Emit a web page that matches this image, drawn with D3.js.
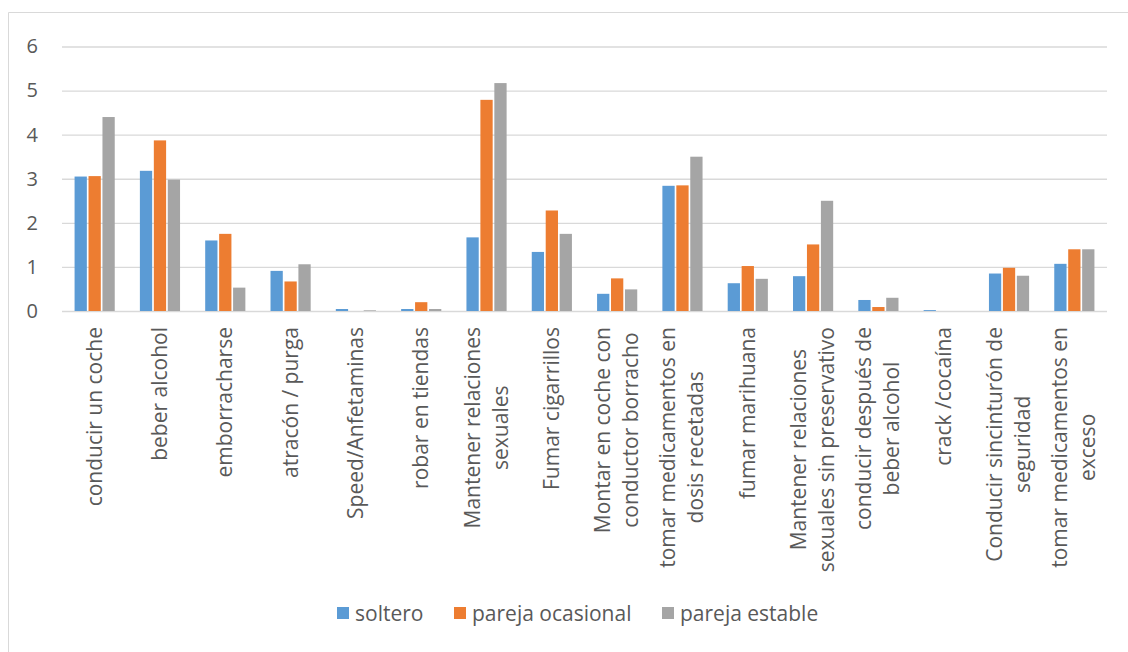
<!DOCTYPE html>
<html>
<head>
<meta charset="utf-8">
<script src="https://cdn.jsdelivr.net/npm/d3@7"></script>
<style>
  html, body { margin: 0; padding: 0; background: #fff; }
  svg { display: block; font-family: "Open Sans", sans-serif; }
</style>
</head>
<body>
<svg id="chart" width="1128" height="652"></svg>
<script>
// Categories (each entry is a list of label lines)
const categories = [
  ["conducir un coche"],
  ["beber alcohol"],
  ["emborracharse"],
  ["atracón / purga"],
  ["Speed/Anfetaminas"],
  ["robar en tiendas"],
  ["Mantener relaciones", "sexuales"],
  ["Fumar cigarrillos"],
  ["Montar en coche con", "conductor borracho"],
  ["tomar medicamentos en", "dosis recetadas"],
  ["fumar marihuana"],
  ["Mantener relaciones", "sexuales sin preservativo"],
  ["conducir después de", "beber alcohol"],
  ["crack /cocaína"],
  ["Conducir sincinturón de", "seguridad"],
  ["tomar medicamentos en", "exceso"]
];

const seriesNames = ["soltero", "pareja ocasional", "pareja estable"];
const seriesColors = ["#5b9bd5", "#ed7d31", "#a5a5a5"];

const soltero  = [3.05, 3.18, 1.60, 0.91, 0.045, 0.045, 1.67, 1.34, 0.39, 2.84, 0.63, 0.79, 0.25, 0.02, 0.85, 1.07];
const ocasional = [3.06, 3.87, 1.75, 0.67, 0, 0.20, 4.79, 2.28, 0.74, 2.85, 1.02, 1.51, 0.09, 0, 0.98, 1.40];
const estable  = [4.40, 2.98, 0.53, 1.06, 0.015, 0.045, 5.17, 1.75, 0.49, 3.50, 0.73, 2.50, 0.30, 0, 0.80, 1.40];

const yTicks = [0, 1, 2, 3, 4, 5, 6];

const series = [soltero, ocasional, estable];

const svg = d3.select("#chart");
const textColor = "#595959";
const gridColor = "#d9d9d9";

// chart frame (left and top edges)
svg.append("path")
  .attr("d", "M8.5,652 V12.5 H1128")
  .attr("fill", "none")
  .attr("stroke", gridColor)
  .attr("stroke-width", 1);

const plot = { left: 62, right: 1107, top: 46.5, bottom: 311 };

const x0 = d3.scaleBand()
  .domain(d3.range(categories.length))
  .range([plot.left, plot.right])
  .paddingInner(0.385)
  .paddingOuter(0.1925);

const x1 = d3.scaleBand()
  .domain(d3.range(series.length))
  .range([0, x0.bandwidth()])
  .paddingInner(0.12);

const y = d3.scaleLinear().domain([0, 6]).range([plot.bottom, plot.top]);

// gridlines
const yAxis = d3.axisLeft(y)
  .tickValues(yTicks)
  .tickSize(-(plot.right - plot.left))
  .tickPadding(24)
  .tickFormat(d3.format("d"));

const gAxis = svg.append("g")
  .attr("transform", `translate(${plot.left},0)`)
  .call(yAxis);
gAxis.select(".domain").remove();
gAxis.selectAll(".tick line").attr("stroke", gridColor).attr("stroke-width", 1.3);
gAxis.selectAll(".tick text")
  .attr("fill", textColor)
  .attr("font-size", 20)
  .attr("font-family", "Open Sans, sans-serif");

// bars
const groups = svg.append("g")
  .selectAll("g")
  .data(categories.map((c, i) => i))
  .join("g")
  .attr("transform", i => `translate(${x0(i)},0)`);

groups.selectAll("rect")
  .data(i => series.map((s, k) => ({ k, v: s[i] })))
  .join("rect")
  .attr("x", d => x1(d.k))
  .attr("width", x1.bandwidth())
  .attr("y", d => y(d.v))
  .attr("height", d => y(0) - y(d.v))
  .attr("fill", d => seriesColors[d.k]);

// category labels, rotated, lines centered on the longest line
const labelTop = 327;
const lineGap = 28;
const labels = svg.append("g");
categories.forEach((lines, i) => {
  const cx = x0(i) + x0.bandwidth() / 2;
  const g = labels.append("g");
  const texts = lines.map(l => g.append("text")
    .text(l)
    .attr("font-size", 21)
    .attr("fill", textColor)
    .attr("text-anchor", "middle"));
  const maxLen = d3.max(texts, t => t.node().getComputedTextLength());
  const cy = labelTop + maxLen / 2;
  const n = lines.length;
  texts.forEach((t, j) => {
    const off = (j - (n - 1) / 2) * lineGap;
    const tx = cx + off + 7;
    t.attr("transform", `translate(${tx},${cy}) rotate(-90)`);
  });
});

// legend
const legend = svg.append("g");
const legendItems = [
  { x: 337, name: seriesNames[0], color: seriesColors[0] },
  { x: 454, name: seriesNames[1], color: seriesColors[1] },
  { x: 662, name: seriesNames[2], color: seriesColors[2] }
];
legendItems.forEach(d => {
  legend.append("rect")
    .attr("x", d.x).attr("y", 607)
    .attr("width", 12).attr("height", 12)
    .attr("fill", d.color);
  legend.append("text")
    .attr("x", d.x + 18).attr("y", 621)
    .attr("font-size", 21)
    .attr("fill", textColor)
    .text(d.name);
});
</script>
</body>
</html>
